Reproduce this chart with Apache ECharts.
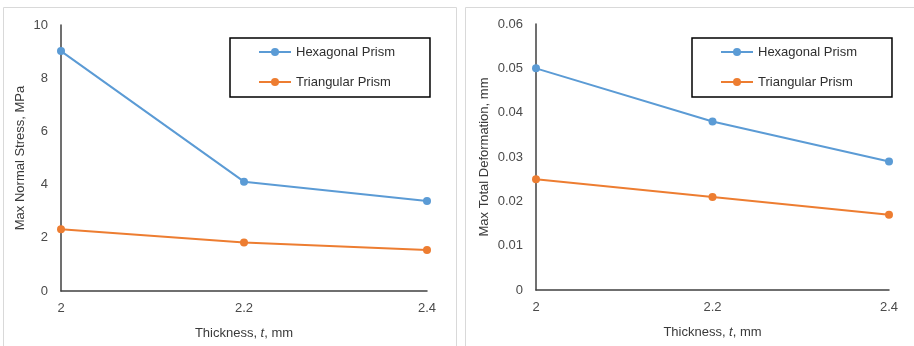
<!DOCTYPE html>
<html><head><meta charset="utf-8">
<script src="https://cdn.jsdelivr.net/npm/echarts@6/dist/echarts.min.js"></script>
<style>html,body{margin:0;padding:0;background:#fff}#c{width:914px;height:346px}</style>
</head><body><div id="c"></div>
<script>
const thickness = ['2', '2.2', '2.4'];
const stressHex = [9.02, 4.11, 3.38];
const stressTri = [2.32, 1.82, 1.54];
const deformHex = [0.050, 0.038, 0.029];
const deformTri = [0.025, 0.021, 0.017];
const seriesNames = ['Hexagonal Prism', 'Triangular Prism'];
const stressTicks = {min: 0, max: 10, interval: 2};
const deformTicks = {min: 0, max: 0.06, interval: 0.01};

const FONT = 'Liberation Sans, Arial, sans-serif';
const BLUE = '#5B9BD5', ORANGE = '#ED7D31';
const chart = echarts.init(document.getElementById('c'));

function xAxis(gi) {
  return {
    type: 'category', gridIndex: gi, data: thickness, boundaryGap: false,
    axisLine: {lineStyle: {color: '#404040', width: 1.5}},
    axisTick: {show: false},
    axisLabel: {color: '#4a4a4a', fontFamily: FONT, fontSize: 13, margin: 11},
    splitLine: {show: false},
    name: '{a|Thickness, }{b|t}{a|, mm}', nameLocation: 'middle', nameGap: 36,
    nameTextStyle: {rich: {
      a: {color: '#3a3a3a', fontFamily: FONT, fontSize: 13},
      b: {color: '#3a3a3a', fontFamily: FONT, fontSize: 13, fontStyle: 'italic'}
    }}
  };
}
function yAxis(gi, ticks, name, gap) {
  return {
    type: 'value', gridIndex: gi, min: ticks.min, max: ticks.max, interval: ticks.interval,
    axisLine: {show: true, lineStyle: {color: '#404040', width: 1.5}},
    axisTick: {show: false},
    splitLine: {show: false},
    axisLabel: {color: '#4a4a4a', fontFamily: FONT, fontSize: 13, margin: 13},
    name: name, nameLocation: 'middle', nameGap: gap,
    nameTextStyle: {color: '#3a3a3a', fontFamily: FONT, fontSize: 13}
  };
}
function line(name, data, color, xi) {
  return {
    type: 'line', name: name, data: data, xAxisIndex: xi, yAxisIndex: xi,
    symbol: 'circle', symbolSize: 8, color: color,
    lineStyle: {color: color, width: 2}, itemStyle: {color: color}
  };
}
function legend(left) {
  return {
    orient: 'vertical', left: left, top: 38,
    data: seriesNames,
    backgroundColor: '#fff', borderColor: '#000', borderWidth: 1.5,
    padding: [7, 35, 8, 28], itemGap: 16, itemWidth: 32, itemHeight: 10,
    lineStyle: {width: 2},
    textStyle: {color: '#2f2f2f', fontFamily: FONT, fontSize: 13, lineHeight: 14},
    selectedMode: false
  };
}

chart.setOption({
  animation: false,
  grid: [
    {left: 61, top: 25, width: 366, height: 266},
    {left: 536, top: 24, width: 353, height: 266}
  ],
  xAxis: [xAxis(0), xAxis(1)],
  yAxis: [yAxis(0, stressTicks, 'Max Normal Stress, MPa', 34),
          yAxis(1, deformTicks, 'Max Total Deformation, mm', 45)],
  legend: [legend(230), legend(692)],
  graphic: [
    {type: 'rect', silent: true, z: -10, shape: {x: 3.5, y: 7.5, width: 453, height: 350},
     style: {fill: null, stroke: '#d9d9d9', lineWidth: 1}},
    {type: 'rect', silent: true, z: -10, shape: {x: 465.5, y: 7.5, width: 460, height: 350},
     style: {fill: null, stroke: '#d9d9d9', lineWidth: 1}}
  ],
  series: [
    line(seriesNames[0], stressHex, BLUE, 0),
    line(seriesNames[1], stressTri, ORANGE, 0),
    line(seriesNames[0], deformHex, BLUE, 1),
    line(seriesNames[1], deformTri, ORANGE, 1)
  ]
});
</script></body></html>
